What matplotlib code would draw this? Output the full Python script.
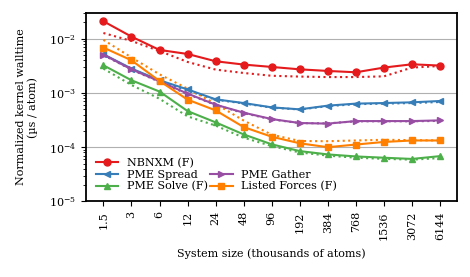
import matplotlib
matplotlib.use('Agg')
import matplotlib.pyplot as plt
from matplotlib.lines import Line2D
from matplotlib.ticker import FixedLocator, NullLocator, NullFormatter, LogLocator

plt.rcParams['font.family'] = ['DejaVu Serif']
plt.rcParams['mathtext.fontset'] = 'dejavuserif'
plt.rcParams['font.size'] = 8

sizes = [1.5, 3, 6, 12, 24, 48, 96, 192, 384, 768, 1536, 3072, 6144]
size_labels = ['1.5', '3', '6', '12', '24', '48', '96', '192', '384', '768', '1536', '3072', '6144']

nbnxm = [0.0209, 0.0109, 0.00619, 0.00522, 0.00383, 0.00333, 0.00301, 0.00272, 0.00254, 0.00240, 0.00293, 0.00337, 0.00319]
nbnxm_ref = [0.0127, 0.00907, 0.00593, 0.00372, 0.00269, 0.00233, 0.00207, 0.00200, 0.00196, 0.00196, 0.00202, 0.00293, 0.00313]

spread = [0.00515, 0.00281, 0.00171, 0.00116, 0.000762, 0.000651, 0.000542, 0.000498, 0.000583, 0.000635, 0.000651, 0.000671, 0.000710]
spread_ref = [0.00500, 0.00278, 0.00168, 0.00110, 0.000750, 0.000640, 0.000535, 0.000495, 0.000570, 0.000620, 0.000635, 0.000650, 0.000680]

gather = [0.00509, 0.00272, 0.00164, 0.000971, 0.000608, 0.000433, 0.000330, 0.000279, 0.000272, 0.000303, 0.000303, 0.000303, 0.000312]
gather_ref = [0.00500, 0.00268, 0.00160, 0.000950, 0.000600, 0.000425, 0.000325, 0.000278, 0.000275, 0.000300, 0.000300, 0.000300, 0.000305]

solve = [0.00323, 0.00171, 0.00106, 0.000463, 0.000287, 0.000172, 0.000113, 8.48e-5, 7.36e-5, 6.76e-5, 6.40e-5, 6.08e-5, 6.85e-5]
solve_ref = [0.0028, 0.00140, 0.00078, 0.00037, 0.00025, 0.000150, 0.000105, 8.0e-5, 7.0e-5, 6.4e-5, 6.1e-5, 5.9e-5, 6.3e-5]

listed = [0.00685, 0.00399, 0.00166, 0.000752, 0.000477, 0.000235, 0.000156, 0.000118, 0.000100, 0.000112, 0.000125, 0.000133, 0.000133]
listed_ref = [0.0095, 0.0045, 0.0022, 0.00120, 0.00063, 0.00031, 0.00017, 0.000130, 0.000129, 0.000133, 0.000137, 0.000135, 0.000133]

series = [
    ('NBNXM (F)', nbnxm, nbnxm_ref, '#e41a1c', 'o'),
    ('PME Spread', spread, spread_ref, '#377eb8', '<'),
    ('PME Solve (F)', solve, solve_ref, '#4daf4a', '^'),
    ('PME Gather', gather, gather_ref, '#984ea3', '>'),
    ('Listed Forces (F)', listed, listed_ref, '#ff7f00', 's'),
]

fig = plt.figure(figsize=(4.7, 2.77), dpi=100)
ax = fig.add_axes([0.183, 0.2726, 0.789, 0.6814])

for label, vals, ref, color, marker in series:
    ax.plot(sizes, ref, ':', color=color, lw=1.5)
handles = []
for label, vals, ref, color, marker in series:
    h, = ax.plot(sizes, vals, '-', color=color, marker=marker, ms=5, lw=1.5, label=label)
    handles.append(h)

ax.set_xscale('log', base=2)
ax.set_yscale('log')
ax.set_xlim(1.5 * 2 ** -0.62, 6144 * 2 ** 0.6)
ax.set_ylim(1e-5, 3e-2)
ax.xaxis.set_major_locator(FixedLocator(sizes))
ax.set_xticklabels(size_labels, rotation=90)
ax.xaxis.set_minor_locator(NullLocator())
ax.yaxis.set_major_locator(LogLocator(base=10, numticks=10))
ax.yaxis.set_minor_locator(LogLocator(base=10, subs=range(2, 10), numticks=10))
ax.yaxis.set_minor_formatter(NullFormatter())

ax.grid(True, axis='y', which='major', color='#b0b0b0', lw=0.8)
ax.set_axisbelow(True)
for sp in ax.spines.values():
    sp.set_linewidth(1.3)

ax.set_xlabel('System size (thousands of atoms)', labelpad=6)
ax.set_ylabel('Normalized kernel walltime\n(µs / atom)', labelpad=8)

blank = Line2D([], [], linestyle='none')
leg_handles = handles[:3] + [blank] + handles[3:]
leg_labels = [s[0] for s in series[:3]] + [''] + [s[0] for s in series[3:]]
ax.legend(leg_handles, leg_labels, loc='lower left', ncol=2, frameon=False,
          labelspacing=0.15, columnspacing=0.2, handlelength=2.0, borderpad=0.4)

fig.savefig('out.png', dpi=100)
